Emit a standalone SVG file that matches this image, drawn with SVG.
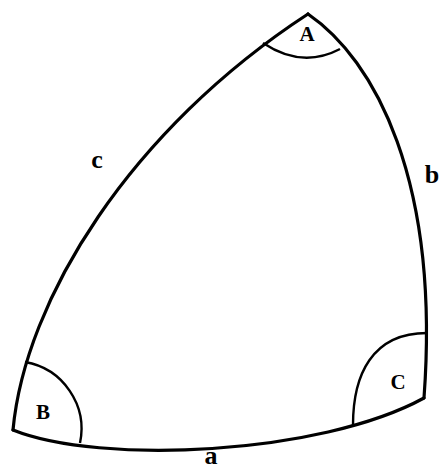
<svg xmlns="http://www.w3.org/2000/svg" width="439" height="471" viewBox="0 0 439 471">
<style>
.side{fill:none;stroke:#000;stroke-width:3.2;stroke-linecap:round;stroke-linejoin:round}
.ang{fill:none;stroke:#000;stroke-width:2.4}
.lbl{font-family:"Liberation Serif",serif;font-weight:bold;fill:#000;text-anchor:middle}
.up{font-size:21px}
.lo{font-size:26px}
</style>
<rect width="439" height="471" fill="#fff"/>
<g id="connectors">
<path id="side-c" class="side" d="M13,430 C25,300 130,130 308,14"/>
<path id="side-b" class="side" d="M308,14 C375,60 440,180 424,398"/>
<path id="side-a" class="side" d="M13,430 C100,465 320,455 424,398"/>
</g>
<g id="node-A">
<path class="ang" d="M263,43 Q302,69 340,49"/>
<text class="lbl up" x="307" y="41">A</text>
</g>
<g id="node-B">
<path class="ang" d="M25,362 A68,68 0 0 1 80,443"/>
<text class="lbl up" x="43" y="419">B</text>
</g>
<g id="node-C">
<path class="ang" d="M427,333 C372,333 353,375 353,425"/>
<text class="lbl up" x="398" y="389">C</text>
</g>
<text id="label-c" class="lbl lo" x="97" y="168">c</text>
<text id="label-b" class="lbl lo" x="432" y="183">b</text>
<text id="label-a" class="lbl lo" x="211" y="464">a</text>
</svg>
